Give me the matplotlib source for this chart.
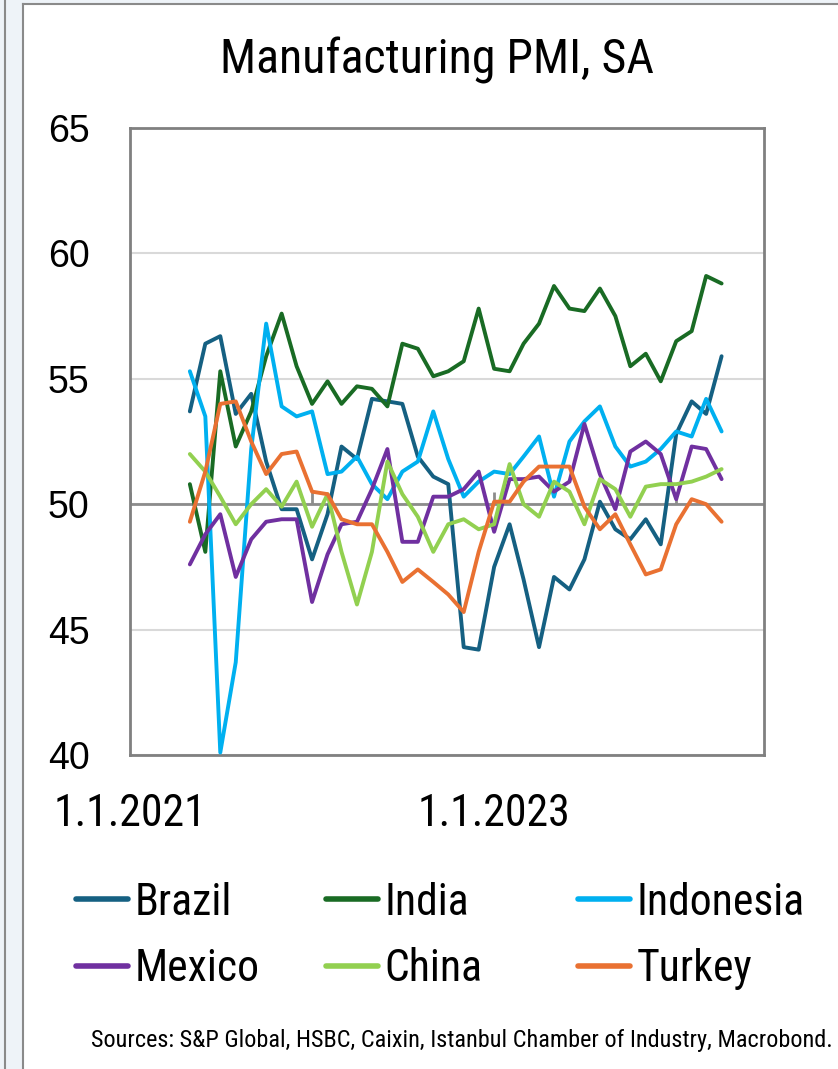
import datetime as dt

import matplotlib
matplotlib.use("Agg")
import matplotlib.pyplot as plt
import matplotlib.dates as mdates
import pandas as pd
from matplotlib import font_manager
from matplotlib.lines import Line2D
from matplotlib.patches import Rectangle

# Monthly manufacturing PMI (seasonally adjusted), May 2021 - Apr 2024
months = pd.date_range("2021-05-01", "2024-04-01", freq="MS")

brazil = [53.7, 56.4, 56.7, 53.6, 54.4, 51.7, 49.8, 49.8, 47.8, 49.6, 52.3, 51.8,
          54.2, 54.1, 54.0, 51.9, 51.1, 50.8, 44.3, 44.2, 47.5, 49.2, 47.0, 44.3,
          47.1, 46.6, 47.8, 50.1, 49.0, 48.6, 49.4, 48.4, 52.8, 54.1, 53.6, 55.9]
india = [50.8, 48.1, 55.3, 52.3, 53.7, 55.9, 57.6, 55.5, 54.0, 54.9, 54.0, 54.7,
         54.6, 53.9, 56.4, 56.2, 55.1, 55.3, 55.7, 57.8, 55.4, 55.3, 56.4, 57.2,
         58.7, 57.8, 57.7, 58.6, 57.5, 55.5, 56.0, 54.9, 56.5, 56.9, 59.1, 58.8]
indonesia = [55.3, 53.5, 40.1, 43.7, 52.2, 57.2, 53.9, 53.5, 53.7, 51.2, 51.3, 51.9,
             50.8, 50.2, 51.3, 51.7, 53.7, 51.8, 50.3, 50.9, 51.3, 51.2, 51.9, 52.7,
             50.3, 52.5, 53.3, 53.9, 52.3, 51.5, 51.7, 52.2, 52.9, 52.7, 54.2, 52.9]
mexico = [47.6, 48.8, 49.6, 47.1, 48.6, 49.3, 49.4, 49.4, 46.1, 48.0, 49.2, 49.3,
          50.6, 52.2, 48.5, 48.5, 50.3, 50.3, 50.6, 51.3, 48.9, 51.0, 51.0, 51.1,
          50.5, 50.9, 53.2, 51.2, 49.8, 52.1, 52.5, 52.0, 50.2, 52.3, 52.2, 51.0]
china = [52.0, 51.3, 50.3, 49.2, 50.0, 50.6, 49.9, 50.9, 49.1, 50.4, 48.1, 46.0,
         48.1, 51.7, 50.4, 49.5, 48.1, 49.2, 49.4, 49.0, 49.2, 51.6, 50.0, 49.5,
         50.9, 50.5, 49.2, 51.0, 50.6, 49.5, 50.7, 50.8, 50.8, 50.9, 51.1, 51.4]
turkey = [49.3, 51.3, 54.0, 54.1, 52.5, 51.2, 52.0, 52.1, 50.5, 50.4, 49.4, 49.2,
          49.2, 48.1, 46.9, 47.4, 46.9, 46.4, 45.7, 48.1, 50.1, 50.1, 50.9, 51.5,
          51.5, 51.5, 49.9, 49.0, 49.6, 48.4, 47.2, 47.4, 49.2, 50.2, 50.0, 49.3]

series_names = ["Brazil", "India", "Indonesia", "Mexico", "China", "Turkey"]
series_values = [brazil, india, indonesia, mexico, china, turkey]
series_colors = ["#156082", "#196B24", "#00B0F0", "#7030A0", "#92D050", "#E97132"]

y_ticks = [40, 45, 50, 55, 60, 65]
year_marks = [dt.date(2021, 1, 1), dt.date(2022, 1, 1), dt.date(2023, 1, 1), dt.date(2024, 1, 1)]
x_labels = {dt.date(2021, 1, 1): "1.1.2021", dt.date(2023, 1, 1): "1.1.2023"}

title = "Manufacturing PMI, SA"
source_note = "Sources: S&P Global, HSBC, Caixin, Istanbul Chamber of Industry, Macrobond."


def pick_font(candidates):
    names = {f.name for f in font_manager.fontManager.ttflist}
    for name in candidates:
        if name in names:
            return name
    return "DejaVu Sans"


narrow = pick_font(["Liberation Sans Narrow", "DejaVu Sans Condensed", "Roboto Condensed",
                    "Liberation Sans"])
regular = pick_font(["Liberation Sans", "Arimo", "DejaVu Sans"])

W, H = 838, 1069
fig = plt.figure(figsize=(W / 100, H / 100), dpi=100)
fig.patch.set_facecolor("white")


def fx(px):
    return px / W


def fy(py):
    return 1 - py / H


# panel frame on a light page background
fig.patches.append(Rectangle((0, 0), fx(22), 1, transform=fig.transFigure,
                             facecolor="#EEF3F8", edgecolor="none", zorder=0))
fig.patches.append(Rectangle((0, fy(3)), 1, 3 / H, transform=fig.transFigure,
                             facecolor="#EEF3F8", edgecolor="none", zorder=0))
fig.lines.append(Line2D([fx(4.5), fx(4.5)], [0, 1], transform=fig.transFigure,
                        color="#8A8A8A", lw=1.5))
fig.lines.append(Line2D([fx(22.5), fx(22.5)], [0, fy(3.5)], transform=fig.transFigure,
                        color="#8A8A8A", lw=1.5))
fig.lines.append(Line2D([fx(22.5), 1], [fy(3.5), fy(3.5)], transform=fig.transFigure,
                        color="#8A8A8A", lw=1.5))

ax = fig.add_axes([fx(130), fy(755), fx(764) - fx(130), fy(128) - fy(755)])

for name, vals, col in zip(series_names, series_values, series_colors):
    ax.plot(months, vals, color=col, lw=2.8, label=name, solid_joinstyle="round",
            solid_capstyle="round", zorder=3)

ax.set_ylim(y_ticks[0], y_ticks[-1])
ax.set_xlim(dt.date(2021, 1, 1), dt.date(2024, 6, 25))

ax.set_yticks(y_ticks)
ax.set_yticklabels([str(v) for v in y_ticks], fontfamily=regular, fontsize=27)
ax.yaxis.grid(True, color="#D9D9D9", lw=1.5, zorder=1)
ax.tick_params(axis="y", length=0, pad=29)

# horizontal axis crosses at 50, with yearly tick marks pointing up
ax.axhline(50, color="#8C8C8C", lw=2, zorder=2)
ax.vlines(year_marks, 50, 50.5, color="#8C8C8C", lw=2, zorder=2)

label_dates = list(x_labels.keys())
ax.set_xticks([mdates.date2num(d) for d in label_dates])
ax.set_xticklabels([x_labels[d] for d in label_dates], fontfamily=narrow, fontsize=31.5)
ax.tick_params(axis="x", length=0, pad=27)

for side in ["left", "right", "top", "bottom"]:
    ax.spines[side].set_color("#808080")
    ax.spines[side].set_linewidth(2)

fig.text(fx(437), fy(60), title, ha="center", va="center",
         fontfamily=narrow, fontsize=34.5)

handles = ax.get_lines()
columns = [(78, [0, 3]), (328, [1, 4]), (580, [2, 5])]
for x0, idx in columns:
    leg = fig.legend([handles[i] for i in idx], [series_names[i] for i in idx],
                     loc="upper left", bbox_to_anchor=(fx(x0 - 11), fy(873)),
                     frameon=False, prop={"family": narrow, "size": 31.5},
                     handlelength=1.2, handletextpad=0.15, labelspacing=0.55,
                     borderpad=0.2, borderaxespad=0)
    for ln in leg.get_lines():
        ln.set_linewidth(4)

fig.text(fx(833), fy(1040), source_note, ha="right", va="center",
         fontfamily=narrow, fontsize=17.5)

fig.savefig("out.png", dpi=100)
